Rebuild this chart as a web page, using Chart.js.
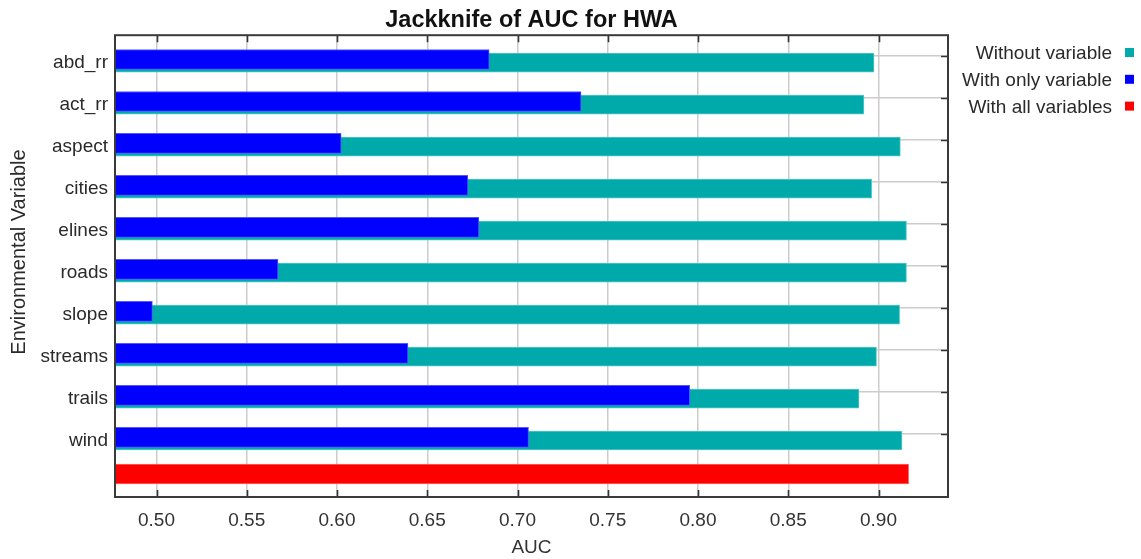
<!DOCTYPE html>
<html>
<head>
<meta charset="utf-8">
<script src="https://cdn.jsdelivr.net/npm/chart.js@4.4.1/dist/chart.umd.min.js"></script>
<style>
  html, body { margin: 0; padding: 0; background: #ffffff; }
  canvas { display: block; }
</style>
</head>
<body>
<canvas id="chart" width="1141" height="559"></canvas>
<script>
// Environmental variables tested in the jackknife
const variables = ['abd_rr', 'act_rr', 'aspect', 'cities', 'elines', 'roads', 'slope', 'streams', 'trails', 'wind'];
// Training AUC when each variable is left out
const withoutVariable = [0.8975, 0.8919, 0.9121, 0.8962, 0.9155, 0.9155, 0.9117, 0.8989, 0.8892, 0.9130];
// Training AUC when each variable is used alone
const withOnlyVariable = [0.6843, 0.7352, 0.6023, 0.6725, 0.6786, 0.5673, 0.4977, 0.6393, 0.7954, 0.7061];
// Training AUC of the full model
const withAllVariables = 0.9167;
// AUC axis ticks
const aucTicks = [0.50, 0.55, 0.60, 0.65, 0.70, 0.75, 0.80, 0.85, 0.90];

const FONT = '"Liberation Sans", Arial, sans-serif';
const categories = [...variables, ''];

const jackknifePlugin = {
  id: 'jackknife',
  beforeDatasetDraw(chart, args) {
    const ds = chart.data.datasets[args.index];
    chart.ctx.save();
    chart.ctx.translate(0, ds.shiftY || 0);
  },
  afterDatasetDraw(chart) {
    chart.ctx.restore();
  },
  afterDatasetsDraw(chart) {
    const { ctx, chartArea: a, scales: { x, y } } = chart;
    ctx.save();
    // inward tick marks
    ctx.strokeStyle = '#333333';
    ctx.lineWidth = 1.6;
    ctx.beginPath();
    x.ticks.forEach((t, i) => {
      const px = Math.round(x.getPixelForTick(i)) + 0.5;
      ctx.moveTo(px, a.top); ctx.lineTo(px, a.top + 7);
      ctx.moveTo(px, a.bottom); ctx.lineTo(px, a.bottom - 7);
    });
    variables.forEach((v, i) => {
      const py = Math.round(y.getPixelForTick(i)) + 0.5;
      ctx.moveTo(a.right, py); ctx.lineTo(a.right - 7, py);
    });
    ctx.stroke();
    // plot frame
    ctx.strokeStyle = '#3a3a3a';
    ctx.lineWidth = 2;
    ctx.strokeRect(a.left, a.top, a.right - a.left, a.bottom - a.top);
    ctx.restore();
  },
  afterDraw(chart) {
    const { ctx } = chart;
    ctx.save();
    // legend: label text followed by a colour square
    ctx.font = '19px ' + FONT;
    ctx.textAlign = 'right';
    ctx.textBaseline = 'middle';
    chart.data.datasets.forEach((ds, i) => {
      const cy = 53 + i * 26.8;
      ctx.fillStyle = '#2a2a2a';
      ctx.fillText(ds.label, 1112, cy + 1);
      ctx.fillStyle = ds.backgroundColor;
      ctx.fillRect(1125, cy - 5, 9, 9);
    });
    // vertical axis title
    ctx.font = '20px ' + FONT;
    ctx.translate(19, 252);
    ctx.rotate(-Math.PI / 2);
    ctx.textAlign = 'center';
    ctx.fillStyle = '#2a2a2a';
    ctx.fillText('Environmental Variable', 0, 0);
    ctx.restore();
  }
};

new Chart(document.getElementById('chart'), {
  type: 'bar',
  data: {
    labels: categories,
    datasets: [
      {
        label: 'Without variable',
        data: [...withoutVariable, null],
        backgroundColor: '#00aaaa',
        borderColor: '#55c8c8',
        borderWidth: 1,
        borderSkipped: false,
        grouped: false,
        barThickness: 19,
        order: 2,
        shiftY: 6.5
      },
      {
        label: 'With only variable',
        data: [...withOnlyVariable, null],
        backgroundColor: '#0000ff',
        borderColor: '#5555ff',
        borderWidth: 1,
        borderSkipped: false,
        grouped: false,
        barThickness: 20,
        order: 1,
        shiftY: 3.3
      },
      {
        label: 'With all variables',
        data: [...variables.map(() => null), withAllVariables],
        backgroundColor: '#ff0000',
        borderColor: '#ff6666',
        borderWidth: 1,
        borderSkipped: false,
        grouped: false,
        barThickness: 20,
        order: 0,
        shiftY: -2
      }
    ]
  },
  options: {
    indexAxis: 'y',
    responsive: false,
    devicePixelRatio: 1,
    animation: false,
    layout: { padding: { left: 0, right: 193, top: 0, bottom: 0 } },
    plugins: {
      legend: { display: false },
      tooltip: { enabled: false },
      title: {
        display: true,
        text: 'Jackknife of AUC for HWA',
        fullSize: false,
        color: '#111111',
        font: { family: FONT, size: 23.5, weight: 'bold' },
        padding: { top: 6, bottom: 1 }
      }
    },
    scales: {
      x: {
        type: 'linear',
        min: 0.477,
        max: 0.9385,
        afterBuildTicks(scale) {
          scale.ticks = aucTicks.map(v => ({ value: v }));
        },
        afterFit(scale) { scale.height = 62; },
        ticks: {
          color: '#333333',
          font: { family: FONT, size: 19 },
          padding: 12,
          maxRotation: 0,
          callback: v => Number(v).toFixed(2)
        },
        grid: { color: '#cccccc', lineWidth: 1.5, drawTicks: false },
        border: { display: false },
        title: {
          display: true,
          text: 'AUC',
          color: '#333333',
          font: { family: FONT, size: 19 },
          padding: { top: 0, bottom: 0 }
        }
      },
      y: {
        type: 'category',
        offset: true,
        afterFit(scale) { scale.width = 115; },
        ticks: {
          color: '#2a2a2a',
          font: { family: FONT, size: 19 },
          padding: 7,
          labelOffset: 6.5,
          autoSkip: false
        },
        grid: {
          offset: false,
          drawTicks: false,
          lineWidth: 1.5,
          color: ctx => (ctx.index < variables.length ? '#cccccc' : 'rgba(0,0,0,0)')
        },
        border: { display: false }
      }
    }
  },
  plugins: [jackknifePlugin]
});
</script>
</body>
</html>
